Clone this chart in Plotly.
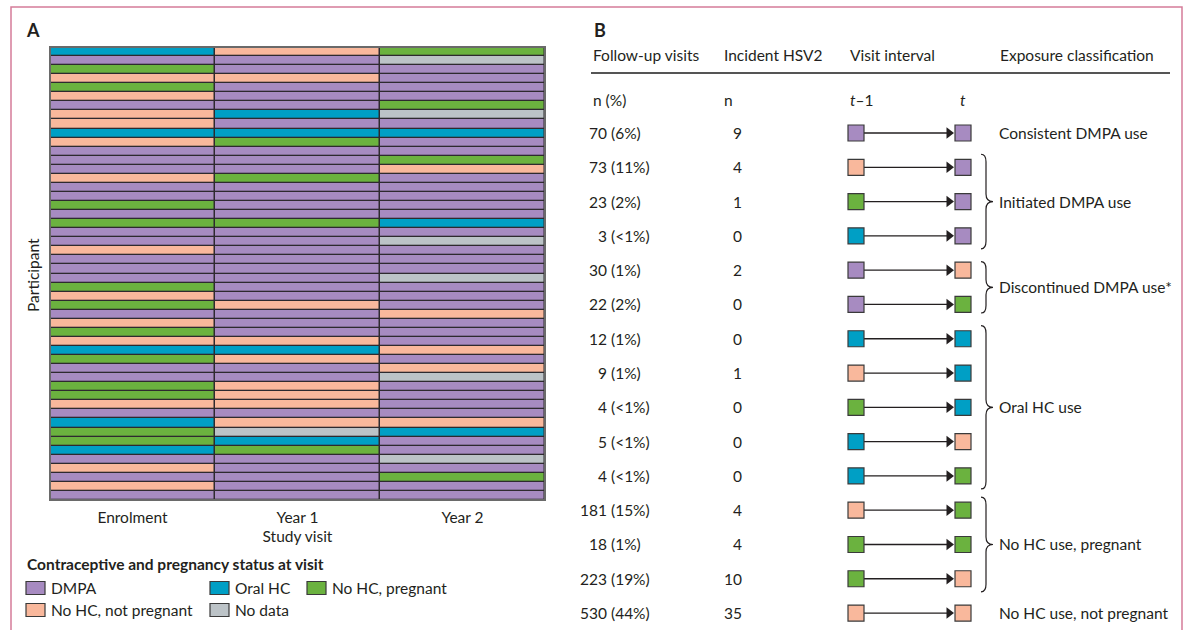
import plotly.graph_objects as go

W, H = 1186, 630
FONT = "Lato"
TXT = "#231f20"

# ---------------- Panel A data ----------------
visit_cols = ["Enrolment", "Year 1", "Year 2"]
status_codes = ["D", "O", "P", "N", "X"]
status_names = ["DMPA", "Oral HC", "No HC, pregnant", "No HC, not pregnant", "No data"]
status_colors = ["#a78bc1", "#009fc5", "#6bb23f", "#f9b89c", "#bcc3c7"]

enrolment = list("ODPNPNDNNO" "NDDDNDDPDP" "DDNDDDPNPD" "NPNOPDDPPN" "DOPPODNDND")
year1 = list("NDDNDDDODO" "PDDDPDDDDP" "DDDDDDDDND" "DDNONDDNNN" "DNXOPDDDDD")
year2 = list("PXDDDDPXDO" "DDPNDDDDDO" "DXDDDXDDDN" "DDDNDNXDDD" "DNODDXDPDD")
participants = list(range(1, len(enrolment) + 1))

# ---------------- Panel B data ----------------
followup_n = [70, 73, 23, 3, 30, 22, 12, 9, 4, 5, 4, 181, 18, 223, 530]
followup_pct = ["6%", "11%", "2%", "<1%", "1%", "2%", "1%", "1%", "<1%", "<1%", "<1%",
                "15%", "1%", "19%", "44%"]
incident_hsv2 = [9, 4, 1, 0, 2, 0, 0, 1, 0, 0, 0, 4, 4, 10, 35]
state_prev = ["D", "N", "P", "O", "D", "D", "O", "N", "P", "O", "O", "N", "P", "P", "N"]
state_curr = ["D", "D", "D", "D", "N", "P", "O", "O", "O", "N", "P", "P", "P", "N", "N"]
group_labels = ["Consistent DMPA use", "Initiated DMPA use", "Discontinued DMPA use*",
                "Oral HC use", "No HC use, pregnant", "No HC use, not pregnant"]
group_start = [0, 1, 4, 6, 11, 14]
group_end = [0, 3, 5, 10, 13, 14]

header_cols = ["Follow-up visits", "Incident HSV2", "Visit interval", "Exposure classification"]
subheader_cols = ["n (%)", "n", "<i>t</i>–1", "<i>t</i>"]

# ---------------- helpers ----------------
code_idx = {c: i for i, c in enumerate(status_codes)}
color_of = {c: status_colors[i] for i, c in enumerate(status_codes)}


def px(x):
    return x / W


def py(y):
    return 1 - y / H


nS = len(status_codes)
cscale = []
for i, c in enumerate(status_colors):
    cscale.append([i / nS, c])
    cscale.append([(i + 1) / nS, c])

z = [[code_idx[a], code_idx[b], code_idx[c]] for a, b, c in zip(enrolment, year1, year2)]

fig = go.Figure()

fig.add_trace(go.Heatmap(
    x=[0, 1, 2], y=participants, z=z,
    colorscale=cscale, zmin=-0.5, zmax=nS - 0.5, showscale=False,
    xgap=1.5, ygap=1.3, hoverinfo="skip",
    xaxis="x", yaxis="y",
))

# ---------------- Panel B marks ----------------
ROW0_PX, ROW_STEP = 133, 34.29
rows = list(range(len(followup_n)))
X_LEFT, X_RIGHT, X_ARROW = 856, 963, 949

line_x, line_y = [], []
for r in rows:
    line_x += [X_LEFT + 8, X_ARROW, None]
    line_y += [r, r, None]
fig.add_trace(go.Scatter(x=line_x, y=line_y, mode="lines",
                         line=dict(color="#231f20", width=1.3),
                         hoverinfo="skip", showlegend=False, xaxis="x2", yaxis="y2"))
fig.add_trace(go.Scatter(x=[X_ARROW] * len(rows), y=rows, mode="markers",
                         marker=dict(symbol="triangle-right", size=10, color="#231f20",
                                     line=dict(width=0)),
                         hoverinfo="skip", showlegend=False, xaxis="x2", yaxis="y2"))
fig.add_trace(go.Scatter(x=[X_LEFT] * len(rows), y=rows, mode="markers",
                         marker=dict(symbol="square", size=16,
                                     color=[color_of[s] for s in state_prev],
                                     line=dict(color="#3a3a3a", width=1.2)),
                         hoverinfo="skip", showlegend=False, xaxis="x2", yaxis="y2"))
fig.add_trace(go.Scatter(x=[X_RIGHT] * len(rows), y=rows, mode="markers",
                         marker=dict(symbol="square", size=16,
                                     color=[color_of[s] for s in state_curr],
                                     line=dict(color="#3a3a3a", width=1.2)),
                         hoverinfo="skip", showlegend=False, xaxis="x2", yaxis="y2"))

ann = []
shapes = []
fnt = dict(family=FONT, size=15.5, color=TXT)

# Panel labels
ann.append(dict(x=px(24), y=py(30), xref="paper", yref="paper", text="<b>A</b>",
                showarrow=False, xanchor="left", yanchor="middle",
                font=dict(family=FONT, size=18, color=TXT)))
ann.append(dict(x=px(592), y=py(30), xref="paper", yref="paper", text="<b>B</b>",
                showarrow=False, xanchor="left", yanchor="middle",
                font=dict(family=FONT, size=18, color=TXT)))

# Participant label
ann.append(dict(x=px(33), y=py(275), xref="paper", yref="paper", text="Participant",
                showarrow=False, textangle=-90, xanchor="center", yanchor="middle", font=fnt))

# Panel B header
hdr_x = [591, 722, 848, 998]
y_hdr = (55 - ROW0_PX) / ROW_STEP
y_sub = (100 - ROW0_PX) / ROW_STEP
y_rule = (73 - ROW0_PX) / ROW_STEP
sub_x = [591, 722, 848, 958]
for t, x in zip(header_cols, hdr_x):
    ann.append(dict(x=x, y=y_hdr, xref="x2", yref="y2", text=t, showarrow=False,
                    xanchor="left", yanchor="middle", font=fnt))
for t, x in zip(subheader_cols, sub_x):
    ann.append(dict(x=x, y=y_sub, xref="x2", yref="y2", text=t, showarrow=False,
                    xanchor="left", yanchor="middle", font=fnt))
shapes.append(dict(type="line", xref="x2", yref="y2", x0=591, x1=1170, y0=y_rule, y1=y_rule,
                   line=dict(color="#555555", width=2)))

for r, n, p, inc in zip(rows, followup_n, followup_pct, incident_hsv2):
    ann.append(dict(x=609, y=r, xref="x2", yref="y2", text=str(n), showarrow=False,
                    xanchor="right", yanchor="middle", font=fnt))
    ann.append(dict(x=609, y=r, xref="x2", yref="y2", text=f"({p})", showarrow=False,
                    xanchor="left", yanchor="middle", font=fnt))
    ann.append(dict(x=744, y=r, xref="x2", yref="y2", text=str(inc), showarrow=False,
                    xanchor="right", yanchor="middle", font=fnt))

# Group labels and braces
BX0, BX1, BX2 = 981, 986, 993
for lab, s, e in zip(group_labels, group_start, group_end):
    mid = (s + e) / 2
    ann.append(dict(x=997, y=mid, xref="x2", yref="y2", text=lab, showarrow=False,
                    xanchor="left", yanchor="middle", font=fnt))
    if e > s:
        pad = 0.25 if e - s == 1 else 0.38
        y0, y1 = s - pad, e + pad
        r = 0.22
        path = (f"M{BX0},{y0} Q{BX1},{y0} {BX1},{y0 + r} L{BX1},{mid - r} "
                f"Q{BX1},{mid} {BX2},{mid} Q{BX1},{mid} {BX1},{mid + r} "
                f"L{BX1},{y1 - r} Q{BX1},{y1} {BX0},{y1}")
        shapes.append(dict(type="path", xref="x2", yref="y2", path=path,
                           line=dict(color="#231f20", width=1.2)))

# Panel A frame and gap background
shapes.append(dict(type="rect", xref="x domain", yref="y domain", x0=0, x1=1, y0=0, y1=1,
                   fillcolor="#2e2a2f", line=dict(width=0), layer="below"))
shapes.append(dict(type="rect", xref="x domain", yref="y domain", x0=0, x1=1, y0=0, y1=1,
                   fillcolor="rgba(0,0,0,0)", line=dict(color="#6a6a6a", width=2)))

# Legend
ann.append(dict(x=px(25), y=py(564), xref="paper", yref="paper",
                text="<b>Contraceptive and pregnancy status at visit</b>", showarrow=False,
                xanchor="left", yanchor="middle", font=fnt))
leg_pos = [(26, 588), (210, 588), (307, 588), (26, 610), (210, 610)]
for (lx, ly), name, col in zip(leg_pos, status_names, status_colors):
    shapes.append(dict(type="rect", xref="paper", yref="paper",
                       x0=px(lx), x1=px(lx + 19), y0=py(ly + 6.5), y1=py(ly - 6.5),
                       fillcolor=col, line=dict(color="#3a3a3a", width=1.2)))
    ann.append(dict(x=px(lx + 23), y=py(ly), xref="paper", yref="paper", text=name,
                    showarrow=False, xanchor="left", yanchor="middle", font=fnt))

# Outer pink frame
shapes.append(dict(type="rect", xref="paper", yref="paper", x0=px(11), x1=px(1182),
                   y0=-0.1, y1=py(7), line=dict(color="#d57c99", width=1.5)))

fig.update_layout(
    width=W, height=H,
    margin=dict(l=0, r=0, t=0, b=0),
    paper_bgcolor="white", plot_bgcolor="rgba(0,0,0,0)",
    showlegend=False,
    font=dict(family=FONT, size=15.5, color=TXT),
    xaxis=dict(domain=[px(50), px(545)], range=[-0.5, 2.5], tickmode="array",
               tickvals=[0, 1, 2], ticktext=visit_cols, showgrid=False, zeroline=False,
               showline=False, ticks="", anchor="y", ticklabelstandoff=6,
               tickfont=fnt, title=dict(text="Study visit", font=fnt, standoff=6)),
    yaxis=dict(domain=[py(500), py(47)], range=[len(participants) + 0.5, 0.5],
               visible=False, anchor="x"),
    xaxis2=dict(domain=[0, 1], range=[0, W], visible=False, anchor="y2"),
    yaxis2=dict(domain=[0, 1], range=[(H - ROW0_PX) / ROW_STEP, -ROW0_PX / ROW_STEP],
                visible=False, anchor="x2"),
    annotations=ann,
    shapes=shapes,
)

fig.write_html("out.html",
               config={"displayModeBar": False, "staticPlot": True},
               post_script="document.body.style.margin='0px';"
                           "document.body.style.overflow='hidden';")
